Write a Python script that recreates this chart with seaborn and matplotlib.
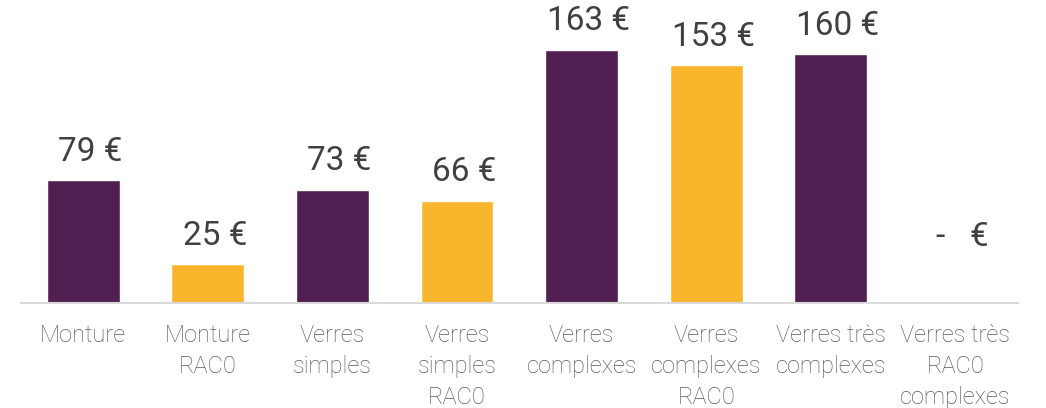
import matplotlib
matplotlib.use("Agg")
import matplotlib.pyplot as plt
import pandas as pd
import seaborn as sns

categories = ["Monture", "Monture\nRAC0", "Verres\nsimples", "Verres\nsimples\nRAC0",
              "Verres\ncomplexes", "Verres\ncomplexes\nRAC0", "Verres très\ncomplexes",
              "Verres très\nRAC0\ncomplexes"]
values = [79, 25, 73, 66, 163, 153, 160, 0]
value_labels = ["79 €", "25 €", "73 €", "66 €", "163 €", "153 €", "160 €", "-   €"]
groups = ["Standard", "RAC0", "Standard", "RAC0", "Standard", "RAC0", "Standard", "RAC0"]
palette = {"Standard": "#521F52", "RAC0": "#F9B62D"}

df = pd.DataFrame({"cat": categories, "val": values, "grp": groups})

sns.set_style("white")
plt.rcParams["font.family"] = ["Roboto", "DejaVu Sans"]

fig = plt.figure(figsize=(10.46, 4.08), dpi=100)
ax = fig.add_axes([0.02, 0.257, 0.953, 0.743])

sns.barplot(data=df, x="cat", y="val", hue="grp", palette=palette, dodge=False,
            width=0.585, legend=False, ax=ax, saturation=1)

for i, (v, lab) in enumerate(zip(values, value_labels)):
    pad = 36 if v == 0 else 9
    ax.annotate(lab, xy=(i, v), xytext=(5, pad), textcoords="offset points",
                ha="center", va="bottom", fontsize=24, color="#404040")

ax.set_xlim(-0.5, len(categories) - 0.5)
ax.set_ylim(0, 195)
ax.set_xlabel("")
ax.set_ylabel("")
ax.set_yticks([])
for s in ["top", "right", "left"]:
    ax.spines[s].set_visible(False)
ax.spines["bottom"].set_color("#D9D9D9")
ax.spines["bottom"].set_linewidth(1.5)
ax.tick_params(axis="x", length=0, pad=15, labelsize=17, labelcolor="#595959")
for t in ax.get_xticklabels():
    t.set_linespacing(1.45)
    t.set_fontweight("light")
    t.set_verticalalignment("top")

fig.savefig("out.png", dpi=100)
